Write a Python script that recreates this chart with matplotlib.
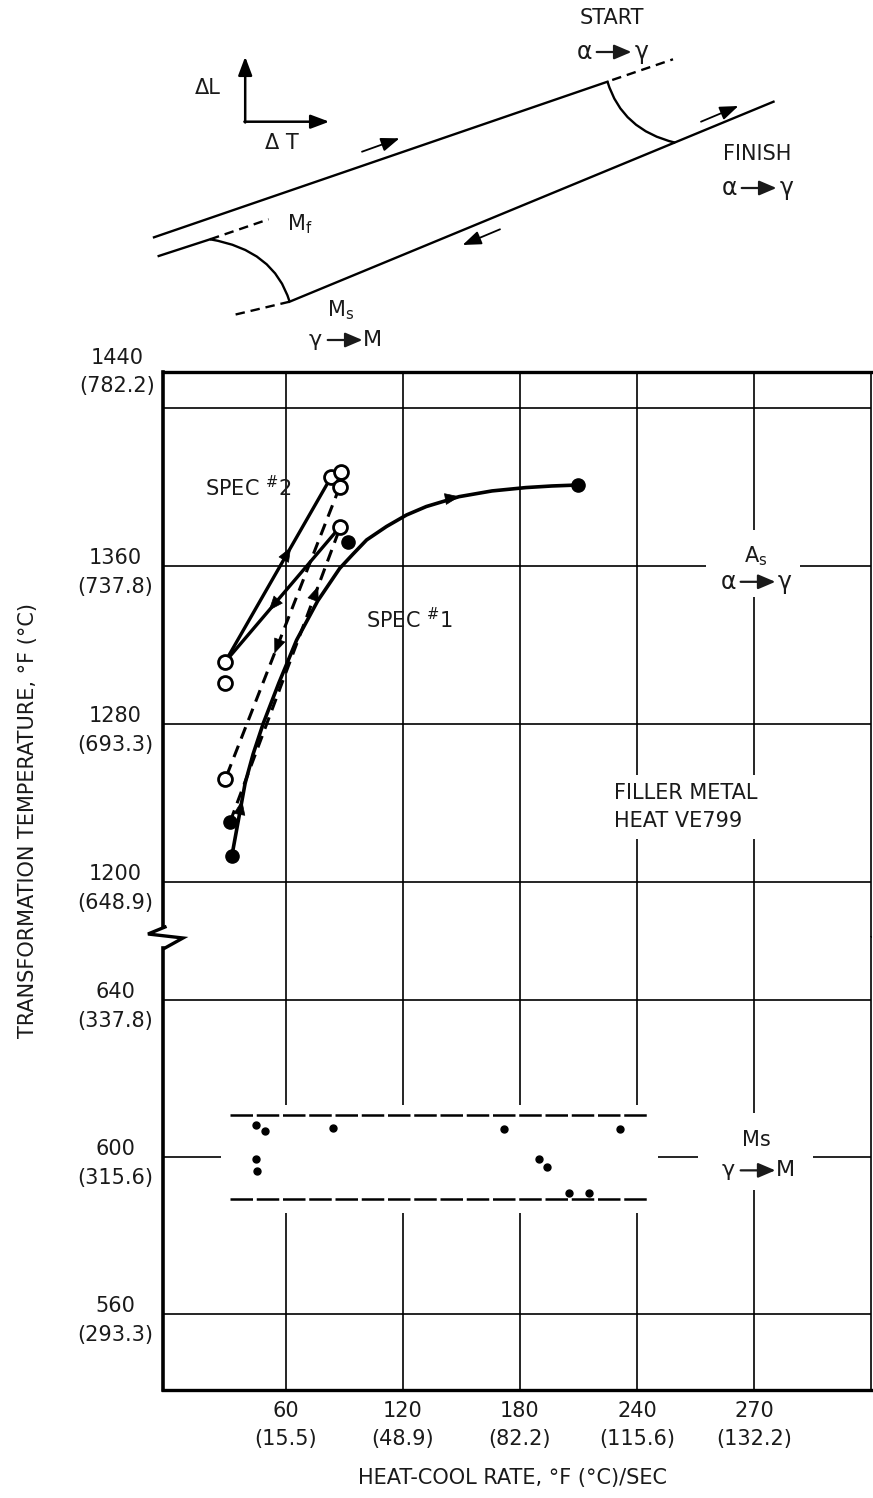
import numpy as np
import matplotlib.pyplot as plt
from matplotlib.lines import Line2D
from matplotlib.path import Path
from matplotlib.patches import PathPatch
from matplotlib.transforms import offset_copy

plt.rcParams['font.family'] = ['DejaVu Sans']
plt.rcParams['mathtext.fontset'] = 'dejavusans'

# --- axis ticks (rate in F/sec, temperature in F) ---
x_ticks = [60, 120, 180, 240, 300]
x_labels = ['60\n(15.5)', '120\n(48.9)', '180\n(82.2)', '240\n(115.6)', '270\n(132.2)']
y_ticks_hi = [1200, 1280, 1360, 1440]
y_labels_hi = ['1200\n(648.9)', '1280\n(693.3)', '1360\n(737.8)', '']
y_top_label = '1440\n(782.2)'
y_ticks_lo = [560, 600, 640]
y_labels_lo = ['560\n(293.3)', '600\n(315.6)', '640\n(337.8)']

# --- As data, spec #1 (filled) ---
spec1_curve_x = [32.3, 39.1, 43.2, 48.4, 56.4, 65.5, 76.3, 87.6, 94.2, 101.4, 111.6, 121.8,
                 132.0, 148.8, 165.7, 183.1, 196.3, 209.8]
spec1_curve_y = [1213.2, 1250.0, 1264.8, 1280.3, 1300.8, 1322.5, 1342.3, 1358.8, 1365.8, 1373.2,
                 1380.0, 1385.8, 1390.1, 1395.1, 1398.0, 1399.7, 1400.5, 1401.0]
spec1_dash_x = [31.4, 86.5]
spec1_dash_y = [1230.5, 1376.0]
spec1_dots_x = [32.3, 31.4, 91.8, 209.8]
spec1_dots_y = [1213.2, 1230.5, 1372.3, 1401.0]

# --- As data, spec #2 (open) ---
spec2_up_x = [28.9, 83.3]
spec2_up_y = [1311.5, 1405.2]
spec2_down_x = [87.6, 28.9]
spec2_down_y = [1379.6, 1311.5]
spec2_dash_x = [87.6, 28.9]
spec2_dash_y = [1400.1, 1252.0]
spec2_open_x = [28.9, 28.9, 28.9, 83.3, 88.4, 87.6, 87.6]
spec2_open_y = [1252.0, 1300.6, 1311.5, 1405.2, 1407.7, 1400.1, 1379.6]

# --- Ms data ---
ms_x = [44.5, 49.4, 84.4, 44.5, 45.4, 171.8, 189.6, 194.1, 205.4, 215.5, 231.5]
ms_y = [608.2, 606.7, 607.5, 599.5, 596.5, 607.1, 599.5, 597.5, 590.9, 590.9, 607.1]
ms_band_x = [31.4, 245.3]
ms_band_lo, ms_band_hi = 589.3, 610.7

# --- schematic dilatometer curve (pixel coords of inset) ---
upper_line = [(154.0, 237.3), (607.5, 81.7)]
start_dash = [(612.2, 80.0), (673.0, 59.3)]
lower_line = [(289.6, 301.7), (773.5, 101.7)]
left_line = [(158.7, 256.0), (210.1, 239.3)]
mf_dash = [(210.1, 239.3), (268.6, 219.3)]
ms_dash = [(289.6, 301.7), (233.5, 315.0)]
start_curve = [(607.5, 81.7), (622.0, 130.0), (675.3, 142.7)]
mf_curve = [(210.1, 239.3), (274.0, 250.0), (289.6, 301.7)]
sketch_arrows = [((362.0, 151.7), (399.5, 138.3)),
                 ((701.0, 121.7), (738.4, 106.0)),
                 ((500.0, 229.3), (462.6, 245.0))]

W, H = 873, 1498
fig = plt.figure(figsize=(W / 100, H / 100), dpi=100)
fig.patch.set_facecolor('white')
INK = '#1a1a1a'
FS = 15

L, R = 163, 871
top_px, brk_px, bot_px = 372, 937, 1390
ax_hi = fig.add_axes([L / W, 1 - brk_px / H, (R - L) / W, (brk_px - top_px) / H])
ax_lo = fig.add_axes([L / W, 1 - bot_px / H, (R - L) / W, (bot_px - brk_px) / H])

ax_hi.set_ylim(1172.2, 1458.2)
ax_lo.set_ylim(540.6, 656.1)
for ax in (ax_hi, ax_lo):
    ax.set_xlim(-3, 360)
    ax.set_xticks(x_ticks)
    ax.grid(True, color='black', lw=1.2)
    ax.tick_params(length=0, labelsize=FS, colors=INK)
    ax.spines['left'].set_linewidth(2.6)
    ax.spines['right'].set_linewidth(1.2)

ax_hi.set_yticks(y_ticks_hi, y_labels_hi)
ax_lo.set_yticks(y_ticks_lo, y_labels_lo)
ax_hi.tick_params(labelbottom=False)
ax_lo.set_xticklabels(x_labels)
ax_lo.tick_params(axis='x', pad=8)
for ax in (ax_hi, ax_lo):
    for t in ax.get_yticklabels():
        t.set_multialignment('center')
        t.set_linespacing(1.55)
    ax.tick_params(axis='y', pad=7)
for t in ax_lo.get_xticklabels():
    t.set_multialignment('center')
    t.set_linespacing(1.5)

ax_hi.spines['bottom'].set_visible(False)
ax_lo.spines['top'].set_visible(False)
ax_hi.spines['top'].set_linewidth(2.4)
ax_lo.spines['bottom'].set_linewidth(2.4)
ax_hi.spines['left'].set_bounds(1177.2, 1458.2)
ax_lo.spines['left'].set_bounds(540.6, 653.3)

ax_hi.text(-0.011, 1.0, y_top_label, transform=ax_hi.transAxes, ha='right', va='center',
           fontsize=FS, color=INK, multialignment='center', linespacing=1.45)

# axis break
zig = Line2D(np.array([165, 148, 183, 165]) / W, 1 - np.array([927, 934, 938, 948]) / H,
             transform=fig.transFigure, color='black', lw=2.4, solid_joinstyle='miter')
fig.add_artist(zig)


def mid_arrow(ax, xs, ys, i, frac=0.5, size=14):
    x0, y0, x1, y1 = xs[i], ys[i], xs[i + 1], ys[i + 1]
    xm, ym = x0 + (x1 - x0) * frac, y0 + (y1 - y0) * frac
    eps = 0.02
    ax.annotate('', xy=(xm + (x1 - x0) * eps, ym + (y1 - y0) * eps), xytext=(xm, ym),
                arrowprops=dict(arrowstyle='-|>,head_length=0.7,head_width=0.28', color='black',
                                lw=0.5, shrinkA=0, shrinkB=0, mutation_scale=size), zorder=6)


def transition(ax, x, y, a, b, fs=17):
    """'a -> b' with a filled-head arrow, centred on (x, y) of ax."""
    for dx, s in ((-20, a), (21, b)):
        tr = offset_copy(ax.transData, fig=fig, x=dx, y=0, units='points')
        ax.text(x, y, s, transform=tr, ha='center', va='center', fontsize=fs, color=INK, zorder=7)
    tr = offset_copy(ax.transData, fig=fig, x=14, y=0, units='points')
    ax.annotate('', xy=(x, y), xycoords=tr, xytext=(-25, 0), textcoords='offset points',
                arrowprops=dict(arrowstyle='-|>,head_length=0.75,head_width=0.32', color=INK,
                                lw=1.6, shrinkA=0, shrinkB=0, mutation_scale=14), zorder=7)


# spec 1
ax_hi.plot(spec1_curve_x, spec1_curve_y, color='black', lw=2.6, zorder=4, solid_capstyle='round')
ax_hi.plot(spec1_dash_x, spec1_dash_y, color='black', lw=2.2, ls=(0, (4, 2.5)), zorder=4)
ax_hi.plot(spec1_dots_x, spec1_dots_y, 'o', color='black', ms=9.5, zorder=5)
mid_arrow(ax_hi, spec1_curve_x, spec1_curve_y, 0, 0.75)
mid_arrow(ax_hi, spec1_curve_x, spec1_curve_y, 13, 0.0)
mid_arrow(ax_hi, spec1_dash_x, spec1_dash_y, 0, 0.8)

# spec 2
ax_hi.plot(spec2_up_x, spec2_up_y, color='black', lw=2.4, zorder=4)
ax_hi.plot(spec2_down_x, spec2_down_y, color='black', lw=2.4, zorder=4)
ax_hi.plot(spec2_dash_x, spec2_dash_y, color='black', lw=2.2, ls=(0, (4, 2.5)), zorder=4)
ax_hi.plot(spec2_open_x, spec2_open_y, 'o', mfc='white', mec='black', mew=2, ms=10, zorder=5)
mid_arrow(ax_hi, spec2_up_x, spec2_up_y, 0, 0.6)
mid_arrow(ax_hi, spec2_down_x, spec2_down_y, 0, 0.6)
mid_arrow(ax_hi, spec2_dash_x, spec2_dash_y, 0, 0.55)

txt = dict(fontsize=FS, color=INK, zorder=3)
ax_hi.text(40.5, 1399.5, 'SPEC $^{\\#}$2', ha='center', va='center', **txt)
ax_hi.text(123.3, 1332.7, 'SPEC $^{\\#}$1', ha='center', va='center', **txt)
ax_hi.text(228, 1238.0, 'FILLER METAL\nHEAT VE799', ha='left', va='center', linespacing=1.5,
           bbox=dict(facecolor='white', edgecolor='none', pad=6), **txt)

# As label, cut into the grid
ax_hi.fill_between([275.5, 323.5], 1344.3, 1378.2, color='white', lw=0, zorder=2.5)
ax_hi.text(301, 1365.0, 'A$_\\mathregular{s}$', ha='center', va='center', **txt)
transition(ax_hi, 301, 1352.0, 'α', 'γ')

# Ms band
ax_lo.fill_between([26.8, 251.0], 585.7, 613.2, color='white', lw=0, zorder=2)
ax_lo.plot(ms_band_x, [ms_band_hi, ms_band_hi], color='black', lw=1.8, ls=(0, (9, 1.5)), zorder=3)
ax_lo.plot(ms_band_x, [ms_band_lo, ms_band_lo], color='black', lw=1.8, ls=(0, (9, 1.5)), zorder=3)
ax_lo.plot(ms_x, ms_y, 'o', color='black', ms=5, zorder=5)
ax_lo.fill_between([271.4, 330.1], 591.6, 611.2, color='white', lw=0, zorder=2.5)
ax_lo.text(301, 604.3, 'Ms', ha='center', va='center', **txt)
transition(ax_lo, 301, 596.6, 'γ', 'M', fs=16)

fig.text(28 / W, 1 - 820 / H, 'TRANSFORMATION TEMPERATURE, °F (°C)', rotation=90,
         ha='center', va='center', fontsize=FS, color=INK)
fig.text(513 / W, 1 - 1478 / H, 'HEAT-COOL RATE, °F (°C)/SEC', ha='center', va='center',
         fontsize=FS, color=INK)

# --- schematic inset ---
ax_d = fig.add_axes([0, 1 - 350 / H, 1, 350 / H])
ax_d.set_xlim(0, W)
ax_d.set_ylim(350, 0)
ax_d.axis('off')
for seg in (upper_line, lower_line, left_line):
    xs, ys = zip(*seg)
    ax_d.plot(xs, ys, color='black', lw=1.7)
for seg in (start_dash, mf_dash, ms_dash):
    xs, ys = zip(*seg)
    ax_d.plot(xs, ys, color='black', lw=1.7, ls=(0, (4, 2.5)))
for cv in (start_curve, mf_curve):
    ax_d.add_patch(PathPatch(Path(cv, [Path.MOVETO, Path.CURVE3, Path.CURVE3]),
                             facecolor='none', edgecolor='black', lw=1.7))
for p0, p1 in sketch_arrows:
    ax_d.annotate('', xy=p1, xytext=p0,
                  arrowprops=dict(arrowstyle='-|>,head_length=0.8,head_width=0.3', color='black',
                                  lw=1.3, shrinkA=0, shrinkB=0, mutation_scale=14))
ax_d.annotate('', xy=(245.2, 56.7), xytext=(245.2, 122.5),
              arrowprops=dict(arrowstyle='-|>,head_length=0.8,head_width=0.3', color='black',
                              lw=1.8, shrinkA=0, shrinkB=0, mutation_scale=14))
ax_d.annotate('', xy=(329.3, 121.7), xytext=(244.4, 121.7),
              arrowprops=dict(arrowstyle='-|>,head_length=0.8,head_width=0.3', color='black',
                              lw=1.8, shrinkA=0, shrinkB=0, mutation_scale=14))

st = dict(fontsize=FS, color=INK, ha='center', va='center')
ax_d.text(208, 88, 'ΔL', **st)
ax_d.text(282, 143, 'Δ T', **st)
ax_d.text(612, 18, 'START', **st)
transition(ax_d, 612, 52, 'α', 'γ')
ax_d.text(757, 154, 'FINISH', **st)
transition(ax_d, 757, 188, 'α', 'γ')
ax_d.text(300, 224, 'M$_\\mathregular{f}$', **st)
ax_d.text(341, 310, 'M$_\\mathregular{s}$', **st)
transition(ax_d, 343, 340, 'γ', 'M', fs=16)

fig.savefig('out.png', dpi=100, facecolor='white')
